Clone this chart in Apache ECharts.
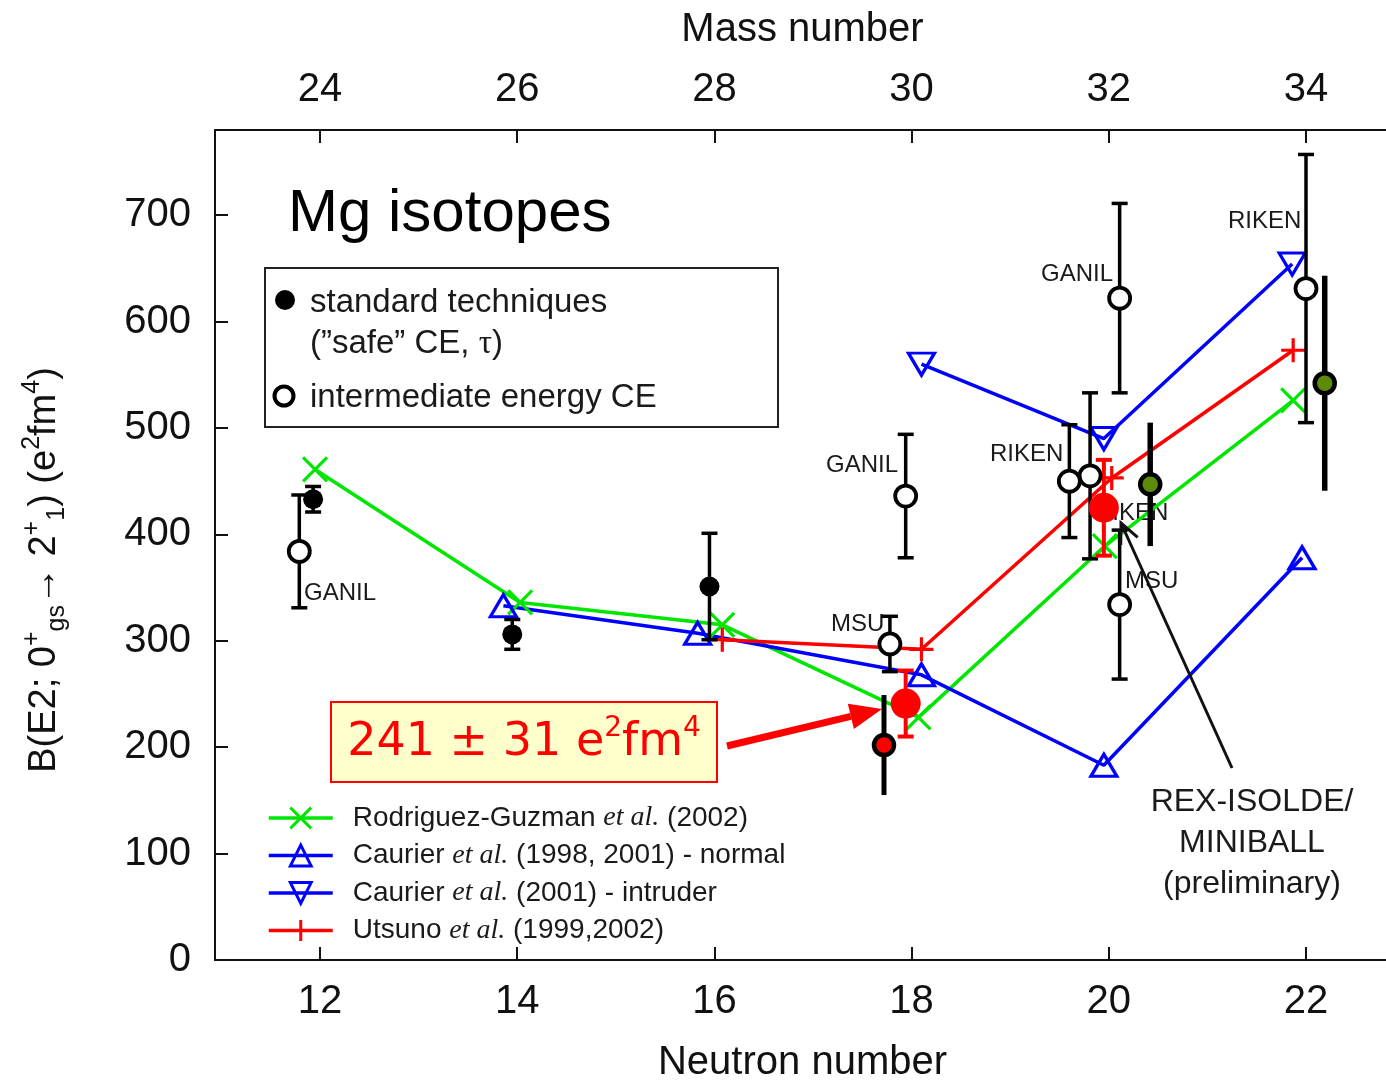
<!DOCTYPE html>
<html><head><meta charset="utf-8">
<script src="https://cdn.jsdelivr.net/npm/echarts@6/dist/echarts.min.js"></script>
<style>html,body{margin:0;padding:0;background:#fff}#c{width:1386px;height:1080px}</style>
</head><body><div id="c"></div>
<script>
// ---------- data ----------
const xTicks = [12, 14, 16, 18, 20, 22];
const yTicks = [0, 100, 200, 300, 400, 500, 600, 700];
const massOffset = 12; // Mg: A = N + 12

// theory
const rgName = 'Rodriguez-Guzman et al. (2002)';
const rgN = [11.95, 14.03, 16.08, 18.07, 19.96, 21.87];
const rgB = [461, 336, 315, 228, 389, 526];
const cnName = 'Caurier et al. (1998, 2001) - normal';
const cnN = [13.86, 15.83, 18.10, 19.95, 21.96];
const cnB = [333, 307, 268, 183, 378];
const ciName = 'Caurier et al. (2001) - intruder';
const ciN = [18.10, 19.95, 21.86];
const ciB = [560, 490, 654];
const utName = 'Utsuno et al. (1999,2002)';
const utN = [16.08, 18.10, 20.03, 21.87];
const utB = [301, 292, 453, 573];

// experiment: standard techniques (filled)
const stdN = [11.93, 13.95, 15.95];
const stdB = [433, 306, 351];
const stdErr = [12, 14, 50];
// experiment: intermediate energy CE (open)
const ceN = [11.79, 17.94, 17.78, 19.60, 19.81, 20.11, 20.11, 22.00];
const ceB = [384, 436, 297, 450, 455, 622, 334, 631];
const ceErr = [53, 58, 26, 53, 78, 89, 70, 126];
// other measurements (coloured centres)
const redDotN = [17.72];
const redDotB = [202];
const redDotErr = [47];
const oliveN = [20.42, 22.19];
const oliveB = [447, 542];
const oliveErr = [58, 101];
// REX-ISOLDE / MINIBALL (preliminary)
const rexN = [17.94, 19.95];
const rexB = [241, 425];
const rexErr = [31, 45];

// ---------- helpers ----------
const FONT = '"Liberation Sans", Arial, sans-serif';
const zip = (a, b) => a.map((v, i) => [v, b[i]]);
const zip3 = (a, b, c) => a.map((v, i) => [v, b[i], c[i]]);
const SYM_X = 'path://M0,0L20,20M20,0L0,20';
const SYM_PLUS = 'path://M10,0L10,20M0,10L20,10';
const SYM_UP = 'path://M10,0L20,17L0,17Z';
const SYM_DOWN = 'path://M0,0L20,0L10,17Z';
const GREEN = '#00e600', BLUE = '#0000ff', RED = '#ff0000';

function errRender(color, width, cap) {
  return function (params, api) {
    const x = api.value(0), y = api.value(1), e = api.value(2);
    const p1 = api.coord([x, y + e]), p2 = api.coord([x, y - e]);
    const st = { stroke: color, lineWidth: width };
    const ch = [{ type: 'line', shape: { x1: p1[0], y1: p1[1], x2: p2[0], y2: p2[1] }, style: st }];
    if (cap) {
      const h = cap / 2;
      ch.push({ type: 'line', shape: { x1: p1[0] - h, y1: p1[1], x2: p1[0] + h, y2: p1[1] }, style: st });
      ch.push({ type: 'line', shape: { x1: p2[0] - h, y1: p2[1], x2: p2[0] + h, y2: p2[1] }, style: st });
    }
    return { type: 'group', children: ch };
  };
}
function errSeries(n, b, e, color, width, cap, z) {
  return { type: 'custom', data: zip3(n, b, e), encode: { x: 0, y: 1 }, renderItem: errRender(color, width, cap), z: z, clip: false, silent: true };
}
function theory(name, n, b, sym, color, size) {
  return {
    name: name, type: 'line', data: zip(n, b), symbol: sym, symbolSize: size, showAllSymbol: true,
    lineStyle: { color: color, width: 3.5 },
    itemStyle: { color: 'rgba(0,0,0,0)', borderColor: color, borderWidth: 3.2 },
    z: 2
  };
}
function scatter(n, b, size, fill, border, bw, z) {
  return { type: 'scatter', data: zip(n, b), symbol: 'circle', symbolSize: size,
    itemStyle: { color: fill, borderColor: border, borderWidth: bw, opacity: 1 }, z: z, silent: true };
}

const axisCommon = {
  type: 'value', min: 10.935, max: 22.852,
  axisLine: { show: true, onZero: false, lineStyle: { color: '#111', width: 2 } },
  axisTick: { show: true, inside: true, length: 13, customValues: xTicks, lineStyle: { color: '#111', width: 2 } },
  splitLine: { show: false },
  nameLocation: 'middle',
  nameTextStyle: { fontSize: 40, color: '#111', fontFamily: FONT }
};

const chart = echarts.init(document.getElementById('c'));
const txt = (x, y, s, size, extra, z) => ({
  type: 'text', x: x, y: y, z: z || 1,
  style: Object.assign({ text: s, fontSize: size, fontFamily: FONT, fill: '#1a1a1a', verticalAlign: 'middle' }, extra || {})
});

// red arrow geometry
const ra = { x0: 727, y0: 746, tx: 882, ty: 709, hl: 32, hw: 13 };
(function () {
  const dx = ra.tx - ra.x0, dy = ra.ty - ra.y0, L = Math.hypot(dx, dy);
  ra.ux = dx / L; ra.uy = dy / L;
  ra.bx = ra.tx - ra.hl * ra.ux; ra.by = ra.ty - ra.hl * ra.uy;
})();
// black arrow geometry
const ba = { x0: 1232, y0: 768, tx: 1121, ty: 523, hl: 22 };
(function () {
  const dx = ba.x0 - ba.tx, dy = ba.y0 - ba.ty, L = Math.hypot(dx, dy);
  const rx = dx / L, ry = dy / L, a = 25 * Math.PI / 180;
  const c = Math.cos(a), s = Math.sin(a);
  ba.p1 = [ba.tx + ba.hl * (rx * c - ry * s), ba.ty + ba.hl * (rx * s + ry * c)];
  ba.p2 = [ba.tx + ba.hl * (rx * c + ry * s), ba.ty + ba.hl * (-rx * s + ry * c)];
})();

const option = {
  animation: false,
  backgroundColor: '#fff',
  textStyle: { fontFamily: FONT },
  grid: { left: 215, top: 130, width: 1175, height: 830, containLabel: false, outerBoundsMode: 'none' },
  xAxis: [
    Object.assign({}, axisCommon, {
      position: 'bottom', name: 'Neutron number', nameGap: 83,
      axisLabel: { customValues: xTicks, fontSize: 40, color: '#111', margin: 22, fontFamily: FONT }
    }),
    Object.assign({}, axisCommon, {
      position: 'top', name: 'Mass number', nameGap: 80,
      axisLabel: { customValues: xTicks, fontSize: 40, color: '#111', margin: 20, fontFamily: FONT,
        formatter: v => String(Math.round(v + massOffset)) }
    })
  ],
  yAxis: {
    type: 'value', min: 0, max: 780,
    axisLine: { show: true, onZero: false, lineStyle: { color: '#111', width: 2 } },
    axisTick: { show: true, inside: true, length: 13, customValues: yTicks, lineStyle: { color: '#111', width: 2 } },
    axisLabel: { customValues: yTicks, fontSize: 40, color: '#111', margin: 24, fontFamily: FONT },
    splitLine: { show: false }
  },
  legend: {
    data: [rgName, cnName, ciName, utName],
    orient: 'vertical', left: 262, top: 799, itemWidth: 64, itemHeight: 26, itemGap: 9.5,
    selectedMode: false,
    lineStyle: { width: 3.5 },
    itemStyle: { borderWidth: 3 },
    formatter: n => n.replace('et al.', '{i|et al.}'),
    textStyle: {
      fontSize: 28, color: '#1a1a1a', fontFamily: FONT, padding: [0, 0, 0, 15],
      rich: { i: { fontSize: 28, fontFamily: '"Liberation Serif", "Times New Roman", serif', fontStyle: 'italic', color: '#1a1a1a' } }
    }
  },
  series: [
    theory(rgName, rgN, rgB, SYM_X, GREEN, 24),
    theory(cnName, cnN, cnB, SYM_UP, BLUE, [26, 22]),
    theory(ciName, ciN, ciB, SYM_DOWN, BLUE, [26, 22]),
    theory(utName, utN, utB, SYM_PLUS, RED, 24),
    errSeries(stdN, stdB, stdErr, '#000', 3.5, 16, 5),
    errSeries(ceN, ceB, ceErr, '#000', 3.5, 16, 5),
    errSeries(redDotN, redDotB, redDotErr, '#000', 5, 0, 5),
    errSeries(oliveN, oliveB, oliveErr, '#000', 5.5, 0, 5),
    errSeries(rexN, rexB, rexErr, RED, 4, 16, 6),
    scatter(stdN, stdB, 20, '#000', '#000', 0, 7),
    scatter(ceN, ceB, 21, '#fff', '#000', 3.8, 7),
    scatter(redDotN, redDotB, 20, RED, '#000', 4.5, 7),
    scatter(oliveN, oliveB, 20, '#5e8a0a', '#000', 4.5, 7),
    scatter(rexN, rexB, 30, RED, RED, 0, 8)
  ],
  graphic: [
    txt(288, 214, 'Mg isotopes', 60, { fill: '#000' }, 5),
    // measurement legend box
    { type: 'rect', z: 3, shape: { x: 265, y: 268, width: 513, height: 159 }, style: { fill: '#fff', stroke: '#222', lineWidth: 2 } },
    { type: 'circle', z: 4, shape: { cx: 285, cy: 300, r: 10 }, style: { fill: '#000' } },
    txt(310, 303, 'standard techniques', 33, { fill: '#1a1a1a' }, 5),
    txt(310, 344, '(\u201Dsafe\u201D CE, {t|\u03C4})', 33, { fill: '#1a1a1a', rich: { t: { fontSize: 33, fontFamily: '"Liberation Serif", serif', fill: '#1a1a1a' } } }, 5),
    { type: 'circle', z: 4, shape: { cx: 284, cy: 396, r: 9.5 }, style: { fill: '#fff', stroke: '#000', lineWidth: 4 } },
    txt(310, 398, 'intermediate energy CE', 33, { fill: '#1a1a1a' }, 5),
    // point labels
    txt(304, 593, 'GANIL', 24),
    txt(826, 465, 'GANIL', 24),
    txt(831, 624, 'MSU', 24),
    txt(990, 454, 'RIKEN', 24),
    txt(1095, 513, 'RIKEN', 24),
    txt(1125, 581, 'MSU', 24),
    txt(1041, 274, 'GANIL', 24),
    txt(1228, 221, 'RIKEN', 24),
    // y axis title
    {
      type: 'text', x: 45, y: 570, rotation: Math.PI / 2, z: 3,
      style: {
        text: 'B(E2; 0{sup|+}{sub|gs}\u2192 2{sup|+}{sub|1}) (e{sup|2}fm{sup|4})',
        fontSize: 38, fontFamily: FONT, fill: '#111', align: 'center', verticalAlign: 'middle', lineHeight: 50,
        rich: {
          sup: { fontSize: 25, lineHeight: 26, verticalAlign: 'top', fontFamily: FONT, fill: '#111' },
          sub: { fontSize: 25, lineHeight: 26, verticalAlign: 'bottom', fontFamily: FONT, fill: '#111' }
        }
      }
    },
    // result box
    { type: 'rect', z: 10, shape: { x: 331, y: 702, width: 386, height: 80 }, style: { fill: '#ffffcc', stroke: RED, lineWidth: 2 } },
    {
      type: 'text', x: 524, y: 743, z: 11,
      style: {
        text: '241 \u00B1 31 e{sup|2}fm{sup|4}', fontSize: 46, fontFamily: '"Comic Sans MS", "DejaVu Sans", sans-serif',
        fill: RED, align: 'center', verticalAlign: 'middle', lineHeight: 56,
        rich: { sup: { fontSize: 28, lineHeight: 30, verticalAlign: 'top', fill: RED, fontFamily: '"DejaVu Sans", sans-serif' } }
      }
    },
    // red arrow
    { type: 'line', z: 10, shape: { x1: ra.x0, y1: ra.y0, x2: ra.bx, y2: ra.by }, style: { stroke: RED, lineWidth: 7 } },
    { type: 'polygon', z: 10, shape: { points: [[ra.tx, ra.ty], [ra.bx - ra.hw * ra.uy, ra.by + ra.hw * ra.ux], [ra.bx + ra.hw * ra.uy, ra.by - ra.hw * ra.ux]] }, style: { fill: RED } },
    // black arrow
    { type: 'line', z: 10, shape: { x1: ba.x0, y1: ba.y0, x2: ba.tx, y2: ba.ty }, style: { stroke: '#111', lineWidth: 3 } },
    { type: 'polyline', z: 10, shape: { points: [ba.p1, [ba.tx, ba.ty], ba.p2] }, style: { stroke: '#111', lineWidth: 3, fill: null } },
    {
      type: 'text', x: 1252, y: 843, z: 10,
      style: { text: 'REX-ISOLDE/\nMINIBALL\n(preliminary)', fontSize: 32, fontFamily: FONT, fill: '#1a1a1a', align: 'center', verticalAlign: 'middle', lineHeight: 41 }
    }
  ]
};
chart.setOption(option);
</script>
</body></html>
